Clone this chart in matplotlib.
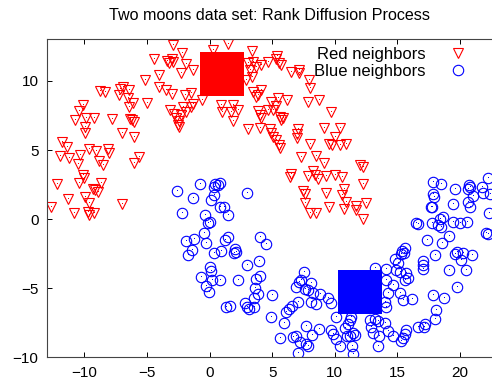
import numpy as np
import matplotlib
matplotlib.use("Agg")
import matplotlib.pyplot as plt

plt.rcParams['font.family'] = ['Liberation Sans', 'DejaVu Sans']

# red moon points
red_pts = [
    (-2.93, 12.58), (-2.2, 12.0), (-4.4, 11.55), (-3.4, 11.45), (-3.2, 11.3), (-3.0, 11.6), (-2.9, 11.35),
    (-1.87, 11.25), (-1.28, 10.82), (-2.27, 10.58), (-4.05, 10.41), (-5.12, 10.05), (-4.0, 9.57), (-3.5, 9.33),
    (-2.99, 9.04), (-1.92, 8.97), (-1.47, 9.13),
    (-6.93, 9.57), (-7.12, 9.42), (-6.45, 9.33), (-7.25, 8.97), (-6.53, 8.73), (-6.13, 8.41), (-6.45, 8.08),
    (-5.01, 8.37), (-8.75, 9.26), (-8.32, 9.2),
    (-10.13, 8.24), (-10.4, 7.81), (-10.75, 7.16), (-9.87, 7.35), (-9.2, 7.35), (-7.79, 7.28), (-6.35, 7.28),
    (-6.0, 7.04), (-6.2, 7.15), (-9.95, 6.68), (-9.95, 6.24), (-7.0, 6.24), (-6.05, 5.95),
    (-3.15, 7.93), (-2.8, 7.64), (-2.67, 7.35), (-2.4, 7.11), (-2.53, 6.8), (-2.47, 6.68), (-2.08, 8.08),
    (-1.86, 7.76), (-1.46, 8.08), (-1.28, 8.32), (-2.27, 7.5),
    (-11.78, 5.55), (-11.39, 5.23), (-11.92, 4.56), (-11.2, 4.39), (-10.53, 3.98), (-10.35, 4.63),
    (-9.65, 5.04), (-9.07, 4.92), (-8.13, 5.04), (-8.0, 4.78), (-8.8, 4.18), (-8.53, 3.89), (-5.6, 4.51), (-6.0, 4.05),
    (-10.13, 3.19), (-10.0, 2.95), (-10.45, 2.63), (-8.67, 2.63), (-9.12, 2.1), (-8.93, 1.98), (-9.33, 2.15),
    (-12.2, 2.54), (-11.27, 1.43), (-9.95, 1.62), (-9.65, 1.19), (-12.67, 0.9), (-10.8, 0.42), (-9.7, 0.53),
    (-9.6, 0.3), (-9.2, 0.42), (-6.99, 1.09),
    (1.47, 12.65), (0.27, 12.27), (3.41, 12.17), (5.39, 11.78), (5.33, 11.55), (5.73, 11.13), (5.57, 11.26),
    (4.67, 11.37), (4.13, 11.13), (3.47, 11.37), (3.68, 11.01), (3.07, 11.26), (3.2, 10.82), (3.41, 10.29), (2.93, 10.05),
    (6.53, 10.65), (7.15, 10.82), (7.15, 10.58), (7.95, 10.1), (8.0, 9.52),
    (3.47, 9.2), (4.13, 9.33), (3.87, 8.97), (3.73, 8.84),
    (4.93, 8.48), (5.47, 8.73), (6.19, 8.65), (5.28, 8.17), (5.07, 7.88),
    (7.87, 8.48), (8.75, 8.6), (9.73, 7.76),
    (-0.59, 8.6), (0.93, 8.24), (1.87, 8.24), (1.01, 7.76), (1.73, 7.76), (2.27, 7.88), (1.87, 7.11),
    (3.87, 7.83), (4.67, 7.88), (4.13, 7.35), (4.0, 7.52),
    (5.6, 7.4), (5.87, 7.35), (5.73, 7.16),
    (3.07, 6.49), (4.05, 6.56), (4.8, 6.49), (4.93, 6.2), (5.07, 5.95), (5.33, 5.72), (5.55, 5.35), (5.65, 5.11),
    (7.07, 6.49), (6.99, 6.17), (6.99, 5.84),
    (9.12, 6.56), (10.4, 6.56),
    (10.0, 5.95), (9.55, 5.47), (9.81, 5.35), (10.4, 5.35), (10.88, 5.47),
    (8.0, 5.47), (7.33, 4.46), (8.48, 4.56), (9.12, 4.08),
    (12.0, 3.91), (12.27, 3.79),
    (6.53, 3.26), (6.4, 3.06), (8.27, 3.5), (8.4, 3.19), (8.67, 2.87), (7.87, 3.11),
    (9.33, 3.11), (10.0, 3.19), (10.61, 3.06),
    (12.27, 2.54),
    (7.47, 2.05), (7.65, 1.81), (7.65, 1.14), (8.0, 0.46), (8.48, 0.46),
    (9.33, 1.86), (9.55, 0.9), (10.72, 2.15), (10.61, 1.74), (10.93, 1.26), (10.72, 0.71), (11.68, 0.95),
    (11.73, 0.66), (12.53, 1.14), (12.27, -0.01),
]

# blue moon points
blue_pts = [
    (-2.62, 2.05), (-0.8, 2.54), (0.4, 2.54), (0.8, 2.59), (0.67, 2.47), (0.32, 2.3), (3.01, 1.91),
    (-1.28, 1.5), (0.13, 1.38), (0.32, 1.74), (0.8, 0.9), (1.12, 0.85), (1.47, 0.3), (-2.21, 0.42),
    (-0.4, 0.3), (0.0, -0.19), (-0.13, -0.3),
    (-0.48, -1.03), (-0.32, -1.75), (-1.2, -1.46), (-1.86, -1.56), (-1.39, -2.23), (-1.74, -2.59),
    (0.32, -2.47), (0.93, -2.28), (1.2, -1.51), (1.47, -1.27), (2.0, -2.18), (2.08, -2.35), (1.92, -2.42),
    (4.0, -1.32), (4.48, -1.8), (3.95, -3.0), (3.01, -3.32),
    (0.05, -3.44), (0.13, -3.73), (-0.67, -4.16), (0.21, -4.4), (0.85, -4.4), (-0.32, -4.83), (-0.05, -5.25),
    (2.27, -4.38), (3.73, -4.33), (4.05, -4.11),
    (3.6, -5.0), (3.87, -5.41), (3.52, -5.72), (2.8, -6.04), (2.99, -6.37), (3.15, -6.52), (3.52, -6.33),
    (1.28, -6.33), (1.65, -6.28), (5.01, -5.48), (4.93, -7.1), (5.92, -7.53), (5.65, -8.61),
    (6.35, -6.52), (6.08, -6.69),
    (7.52, -3.8), (7.33, -4.4), (6.93, -4.88), (7.15, -4.52), (8.13, -4.6), (7.87, -5.12), (7.6, -5.08),
    (8.8, -5.41), (8.27, -5.37), (9.47, -5.72), (9.73, -6.08), (7.07, -6.03), (6.61, -6.28), (8.13, -5.96),
    (8.53, -6.13), (10.13, -7.05),
    (7.73, -7.72), (8.75, -7.96), (8.21, -8.37), (6.88, -8.45), (6.67, -8.53), (7.2, -8.86), (7.73, -9.03),
    (7.87, -9.17), (7.07, -9.7),
    (9.73, -8.05), (9.87, -8.29), (10.08, -8.67), (10.4, -9.2),
    (10.8, -7.89), (11.2, -7.29), (11.07, -7.58), (11.33, -7.1), (11.47, -8.25), (11.2, -8.49), (10.99, -8.44),
    (11.6, -8.37), (11.41, -9.17), (11.47, -9.75),
    (12.8, -7.29), (13.2, -7.24), (13.47, -7.34), (14.0, -7.48), (12.93, -7.82), (13.07, -8.25), (13.55, -8.45),
    (14.27, -8.13), (14.67, -8.45), (13.47, -9.2),
    (13.2, -3.55), (14.08, -3.63), (14.13, -4.4), (14.67, -4.76), (14.13, -6.33), (14.0, -5.96), (14.27, -5.31),
    (15.07, -3.19), (14.93, -3.67), (15.2, -3.8),
    (15.6, -2.11), (15.35, -2.28), (15.33, -2.52), (15.52, -2.42), (14.8, -2.9),
    (15.73, -3.92), (15.87, -4.28), (15.6, -4.4), (15.2, -5.31), (15.47, -5.84), (16.21, -5.79),
    (17.87, -5.48), (18.72, -5.72), (18.08, -6.57), (18.0, -7.24), (17.2, -7.58), (17.12, -7.82), (16.67, -7.77),
    (15.73, -8.05), (15.6, -8.29), (15.47, -8.57), (15.33, -8.81),
    (17.01, -3.0), (17.07, -3.31), (17.07, -3.63), (19.15, -3.67), (20.48, -3.67), (19.79, -4.88),
    (18.0, -2.6), (19.6, -2.52), (19.73, -2.35), (20.27, -2.42), (20.05, -2.96), (20.93, -2.6),
    (17.87, 2.7), (18.45, 2.54), (19.6, 2.15), (20.75, 2.46), (20.67, 2.15), (20.8, 2.3), (21.73, 2.3),
    (21.87, 1.91), (22.27, 2.95), (22.4, 1.81),
    (17.87, 1.81), (17.93, 1.58), (19.47, 1.09), (20.67, 1.26), (20.8, 0.9), (21.07, 1.67), (17.67, 0.9),
    (17.8, 0.85), (22.33, 0.42),
    (16.48, -0.26), (16.67, -0.35), (17.8, -0.26), (18.4, -0.01), (18.67, 0.13), (18.27, -0.43), (18.45, -0.59),
    (19.41, -0.19), (20.0, -0.26), (20.53, -0.19),
    (22.08, -0.98), (22.27, -1.05), (19.15, -1.22), (17.39, -1.51), (18.53, -1.71),
]

# seed points (big squares)
red_seed = (0.96, 10.48)
blue_seed = (12.04, -5.28)

red = np.array(red_pts)
blue = np.array(blue_pts)

fig = plt.figure(figsize=(4.92, 3.83), dpi=100)
ax = fig.add_axes([0.095, 0.067, 0.905, 0.830])

ax.plot(red[:, 0], red[:, 1], 'v', ms=7, mfc='none', mec='#ff0000', mew=0.8, label='Red neighbors')
ax.plot(red[:, 0], red[:, 1], ',', color='#ff0000')
ax.plot(blue[:, 0], blue[:, 1], 'o', ms=7.5, mfc='none', mec='#0000ff', mew=0.8, label='Blue neighbors')
ax.plot(blue[:, 0], blue[:, 1], ',', color='#0000ff')

ax.plot([red_seed[0]], [red_seed[1]], 's', ms=32, color='#ff0000', mew=0)
ax.plot([blue_seed[0]], [blue_seed[1]], 's', ms=32, color='#0000ff', mew=0)

ax.set_xlim(-13, 22.56)
ax.set_ylim(-10, 13)
ax.set_xticks([-10, -5, 0, 5, 10, 15, 20])
ax.set_yticks([-10, -5, 0, 5, 10])
ax.tick_params(direction='in', length=3.5, width=0.7, top=True, right=False, labelsize=11, pad=6)
for side in ['left', 'bottom', 'top']:
    ax.spines[side].set_linewidth(0.8)
    ax.spines[side].set_color('#444444')
ax.spines['right'].set_visible(False)

ax.set_title('Two moons data set: Rank Diffusion Process', fontsize=11.6, pad=14)
ax.legend(loc='upper right', frameon=False, markerfirst=False, fontsize=12,
          handletextpad=0.9, handlelength=2.0, labelspacing=0.1, borderaxespad=0.0,
          bbox_to_anchor=(0.975, 0.997))

fig.savefig('out.png', dpi=100)
